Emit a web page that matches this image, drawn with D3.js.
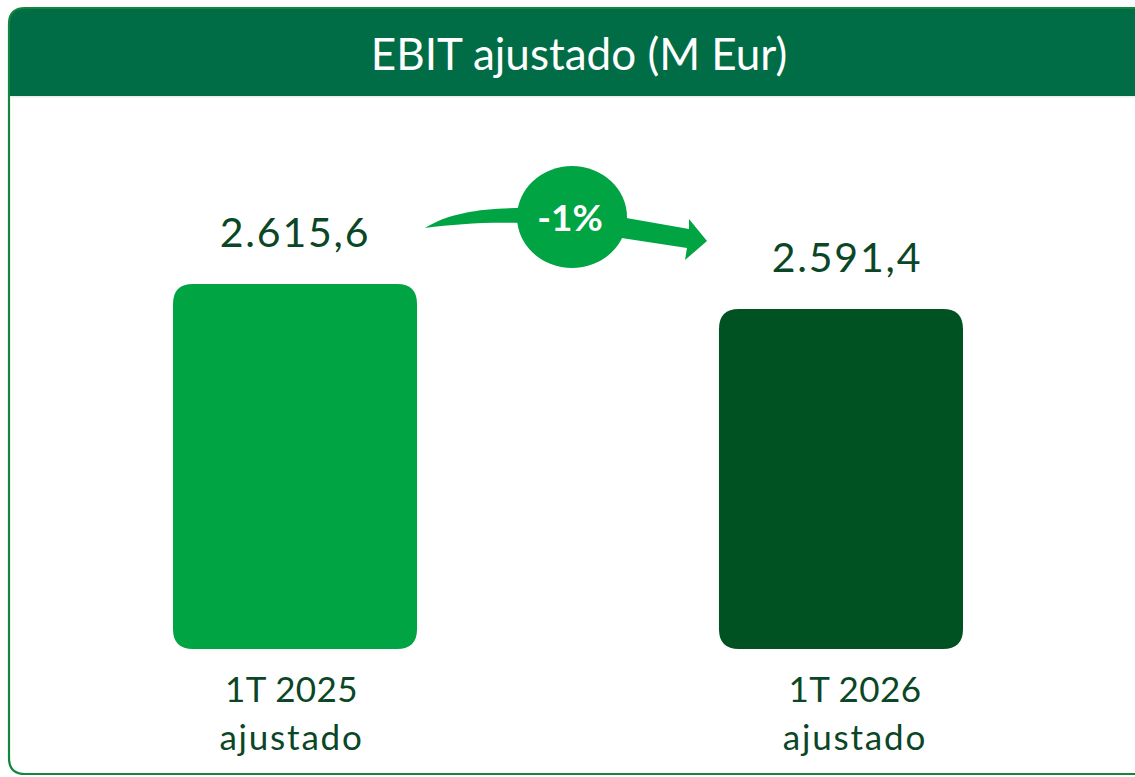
<!DOCTYPE html>
<html><head><meta charset="utf-8">
<script src="https://cdn.jsdelivr.net/npm/d3@7"></script>
<style>html,body{margin:0;padding:0;background:#fff;overflow:hidden}svg{display:block}</style>
</head><body>
<svg id="chart" width="1135" height="777"></svg>
<script>
const title = "EBIT ajustado (M Eur)";
const categories = ["1T 2025 ajustado", "1T 2026 ajustado"];
const catLines = [["1T 2025", "ajustado"], ["1T 2026", "ajustado"]];
const values = [2615.6, 2591.4];
const valueLabels = ["2.615,6", "2.591,4"];
const barColors = ["#00a443", "#005223"];
const changeLabel = "-1%";

const W = 1135, H = 777;
const svg = d3.select("#chart");
const font = "Lato, 'Open Sans', sans-serif";

// frame
const fx = 9, fy = 8, r = 16, fb = 774;
svg.append("path")
  .attr("d", `M${fx},${fy + 88} V${fy + r} Q${fx},${fy} ${fx + r},${fy} H${W + 20} V${fy + 88} Z`)
  .attr("fill", "#006d46");
svg.append("path")
  .attr("d", `M${W + 20},${fy} H${fx + r} Q${fx},${fy} ${fx},${fy + r} V${fb - r} Q${fx},${fb} ${fx + r},${fb} H${W + 20}`)
  .attr("fill", "none").attr("stroke", "#11873c").attr("stroke-width", 2.2);
svg.append("rect").attr("x", fx + 1.2).attr("y", fy + 88).attr("width", W).attr("height", 1.5).attr("fill", "#e6efe9");

svg.append("text").attr("x", 579).attr("y", 70).attr("text-anchor", "middle")
  .attr("fill", "#fff").attr("font-family", font).attr("font-size", 44).text(title);

// scales
const x = d3.scaleBand().domain(categories).range([63.8, 1072.2]).paddingInner(0.553).paddingOuter(0.2);
const y = d3.scaleLinear().domain([2262.3, 2615.6]).range([649, 284]);
const labelDx = [-3.5, 14];

const g = svg.append("g");
categories.forEach((c, i) => {
  const bx = x(c), bw = x.bandwidth(), top = y(values[i]), bot = y.range()[0], rr = 20;
  g.append("path")
    .attr("d", `M${bx},${top + rr} Q${bx},${top} ${bx + rr},${top} H${bx + bw - rr} Q${bx + bw},${top} ${bx + bw},${top + rr} V${bot - rr} Q${bx + bw},${bot} ${bx + bw - rr},${bot} H${bx + rr} Q${bx},${bot} ${bx},${bot - rr} Z`)
    .attr("fill", barColors[i]);
  g.append("text").attr("x", bx + bw / 2 + (i === 0 ? 0 : 6)).attr("y", top - 37).attr("text-anchor", "middle")
    .attr("fill", "#0b4626").attr("font-family", font).attr("font-size", 41)
    .attr("letter-spacing", 1.8).text(valueLabels[i]);
  catLines[i].forEach((l, j) => {
    g.append("text").attr("x", bx + bw / 2 + labelDx[i]).attr("y", 702 + j * 48).attr("text-anchor", "middle")
      .attr("fill", "#0b4626").attr("font-family", font).attr("font-size", 35)
      .attr("letter-spacing", j === 0 ? 0.4 : 1.8).text(l);
  });
});

// change arrow
const arrow = svg.append("g");
arrow.append("path")
  .attr("d", "M425,228 C450,212 485,208 522,208 L522,223 C485,222 455,224 425,228 Z")
  .attr("fill", "#00a443");
arrow.append("path")
  .attr("d", "M615,216 L689,229 L689,219 L707,241 L685,260 L687,248 L615,237 Z")
  .attr("fill", "#00a443");
arrow.append("ellipse").attr("cx", 572).attr("cy", 217).attr("rx", 55).attr("ry", 51).attr("fill", "#00a443");
arrow.append("text").attr("x", 570).attr("y", 231).attr("text-anchor", "middle")
  .attr("fill", "#fff").attr("font-family", font).attr("font-weight", 700).attr("font-size", 37).text(changeLabel);
</script>
</body></html>
